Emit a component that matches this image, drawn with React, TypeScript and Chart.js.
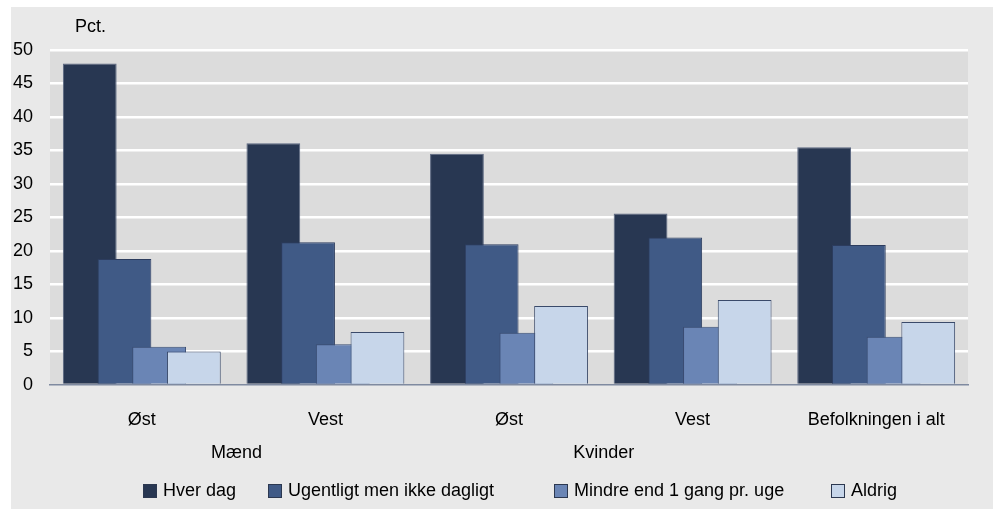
import React, { useEffect, useRef } from "react";
import { Chart, registerables } from "chart.js";

Chart.register(...registerables);

const categories = ["Øst", "Vest", "Øst", "Vest", "Befolkningen i alt"];
const groupNames = ["Mænd", "Kvinder"];
const groupSpans = [[0, 1], [2, 3]];
const seriesNames = ["Hver dag", "Ugentligt men ikke dagligt", "Mindre end 1 gang pr. uge", "Aldrig"];
const hverDag = [48.0, 36.1, 34.5, 25.6, 35.5];
const ugentligt = [18.8, 21.3, 21.0, 22.0, 20.9];
const mindre = [5.7, 6.1, 7.8, 8.7, 7.2];
const aldrig = [5.0, 7.9, 11.8, 12.7, 9.4];
const yMin = 0;
const yMax = 50;
const yStep = 5;
const yUnit = "Pct.";

const fills = ["#283752", "#405a86", "#6a85b5", "#c7d6ea"];
const borders = ["#5a6680", "#2c3c5e", "#3a4c72", "#3a4a6a"];
const FONT = "'Liberation Sans', Arial, sans-serif";
const FS = 18;

export default function App() {
  const ref = useRef<HTMLCanvasElement | null>(null);

  useEffect(() => {
    if (!ref.current) return;
    const values = [hverDag, ugentligt, mindre, aldrig];

    const bgPlugin = {
      id: "plotBg",
      beforeDraw(chart: any) {
        const { ctx, chartArea } = chart;
        ctx.save();
        ctx.fillStyle = "#dcdcdc";
        ctx.fillRect(chartArea.left, chartArea.top, chartArea.right - chartArea.left, chartArea.bottom - chartArea.top);
        ctx.restore();
      },
    };

    const orderPlugin = {
      id: "drawOrder",
      beforeDatasetsDraw(chart: any) {
        const n = chart.data.datasets.length;
        for (let i = 0; i < n; i++) {
          const meta = chart.getDatasetMeta(i);
          if (meta.visible !== false) meta.controller.draw();
        }
        return false;
      },
    };

    const textPlugin = {
      id: "texts",
      afterDraw(chart: any) {
        const { ctx, chartArea } = chart;
        const xs = chart.scales.x;
        ctx.save();
        ctx.fillStyle = "#000";
        ctx.font = `${FS}px ${FONT}`;
        ctx.textBaseline = "middle";
        // unit label
        ctx.textAlign = "left";
        ctx.fillText(yUnit, chartArea.left + 25, chartArea.top - 23);
        // group labels
        ctx.textAlign = "center";
        groupNames.forEach((g, i) => {
          const [a, b] = groupSpans[i];
          const x = (xs.getPixelForValue(a) + xs.getPixelForValue(b)) / 2 + 3;
          ctx.fillText(g, x, chartArea.bottom + 68);
        });
        // legend
        const boxX = [132, 257, 543, 820];
        const ly = chartArea.bottom + 106;
        ctx.textAlign = "left";
        seriesNames.forEach((name, i) => {
          const bx = boxX[i];
          ctx.fillStyle = fills[i];
          ctx.fillRect(bx, ly - 7, 14, 14);
          ctx.strokeStyle = "#2c3850";
          ctx.lineWidth = 1;
          ctx.strokeRect(bx + 0.5, ly - 6.5, 13, 13);
          ctx.fillStyle = "#000";
          ctx.fillText(name, bx + 20, ly);
        });
        ctx.restore();
      },
    };

    const chart = new Chart(ref.current, {
      type: "bar",
      data: {
        labels: categories,
        datasets: seriesNames.map((name, i) => ({
          label: name,
          data: values[i],
          backgroundColor: fills[i],
          borderColor: borders[i],
          borderWidth: 1,
          categoryPercentage: 0.756,
          barPercentage: 1.55,
        })),
      },
      options: {
        animation: false,
        responsive: false,
        maintainAspectRatio: false,
        layout: { padding: { top: 43, right: 25, bottom: 40, left: 0 } },
        plugins: {
          legend: { display: false },
          tooltip: { enabled: false },
          title: { display: false },
        },
        scales: {
          x: {
            grid: { display: false, drawTicks: false },
            border: { display: true, color: "#7f8aa0", width: 1.5 },
            ticks: { color: "#000", font: { family: FONT, size: FS }, padding: 24, maxRotation: 0, autoSkip: false },
            afterFit(scale: any) {
              scale.height = 84;
            },
          },
          y: {
            min: yMin,
            max: yMax,
            grid: {
              drawTicks: false,
              color: (c: any) => (c.tick && c.tick.value === 0 ? "rgba(0,0,0,0)" : "#ffffff"),
              lineWidth: 2.5,
            },
            border: { display: false },
            ticks: { stepSize: yStep, color: "#000", font: { family: FONT, size: FS }, padding: 17 },
            afterFit(scale: any) {
              scale.width = 39;
            },
          },
        },
      },
      plugins: [bgPlugin, orderPlugin, textPlugin],
    } as any);

    return () => chart.destroy();
  }, []);

  return (
    <div style={{ position: "absolute", left: 11, top: 7, width: 982, height: 502, background: "#e9e9e9" }}>
      <canvas ref={ref} width={982} height={502} style={{ width: 982, height: 502, display: "block" }} />
    </div>
  );
}
